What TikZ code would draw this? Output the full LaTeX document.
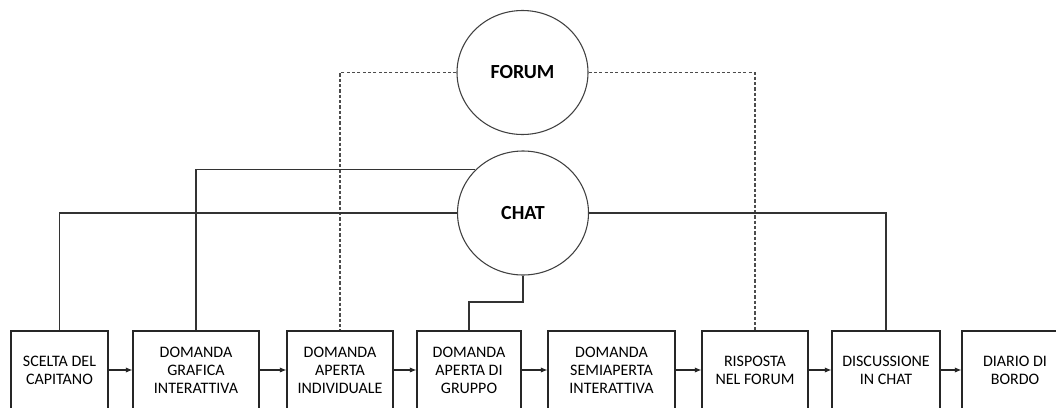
\documentclass[tikz,border=0pt]{standalone}
\usepackage{fontspec}
\setmainfont{Carlito}
\usetikzlibrary{arrows.meta,shapes.geometric}
\begin{document}
\begin{tikzpicture}[x=0.75pt,y=-0.75pt,
  stepbox/.style={draw=black!85,line width=0.8pt,inner sep=0pt,minimum height=58.5pt,
    align=center,font=\fontsize{12}{13.5}\selectfont},
  hub/.style={ellipse,draw=black!75,line width=0.8pt,minimum width=98.25pt,minimum height=93pt,
    inner sep=0pt,font=\fontsize{15}{17}\selectfont\bfseries},
  flow/.style={line width=0.8pt,draw=black!85,-{Latex[length=5pt,width=4pt]}},
  link/.style={line width=0.8pt,draw=black!80},
  dlink/.style={line width=0.8pt,draw=black!70,dash pattern=on 2.4pt off 1.6pt}]
\useasboundingbox (0,0) rectangle (1056,407);
\clip (0,0) rectangle (1056,407);
\fill[white] (0,0) rectangle (1056,407);

\node[stepbox,minimum width=72.75pt] (b1) at (59.5,370) {SCELTA DEL\\CAPITANO};
\node[stepbox,minimum width=94.5pt] (b2) at (196,370) {DOMANDA\\GRAFICA\\INTERATTIVA};
\node[stepbox,minimum width=79.5pt] (b3) at (340,370) {DOMANDA\\APERTA\\INDIVIDUALE};
\node[stepbox,minimum width=78pt] (b4) at (469,370) {DOMANDA\\APERTA DI\\GRUPPO};
\node[stepbox,minimum width=95.25pt] (b5) at (611.5,370) {DOMANDA\\SEMIAPERTA\\INTERATTIVA};
\node[stepbox,minimum width=79.5pt] (b6) at (755,370) {RISPOSTA\\NEL FORUM};
\node[stepbox,minimum width=81pt] (b7) at (886,370) {DISCUSSIONE\\IN CHAT};
\node[stepbox,minimum width=79.5pt] (b8) at (1015,370) {DIARIO DI\\BORDO};

\node[hub] (forum) at (522.5,72.5) {FORUM};
\node[hub] (chat) at (523,213) {CHAT};

\draw[flow] (b1) -- (b2);
\draw[flow] (b2) -- (b3);
\draw[flow] (b3) -- (b4);
\draw[flow] (b4) -- (b5);
\draw[flow] (b5) -- (b6);
\draw[flow] (b6) -- (b7);
\draw[flow] (b7) -- (b8);

\draw[dlink] (forum.west) -| (b3.north);
\draw[dlink] (forum.east) -| (b6.north);

\draw[link] (chat.west) -| (b1.north);
\draw[link] (chat.east) -| (b7.north);
\draw[link] (chat.138.5) -| (b2.north);
\coordinate (step) at (523,302);
\draw[link] (chat.south) -- (chat.south |- step) -| (b4.north);
\end{tikzpicture}
\end{document}
